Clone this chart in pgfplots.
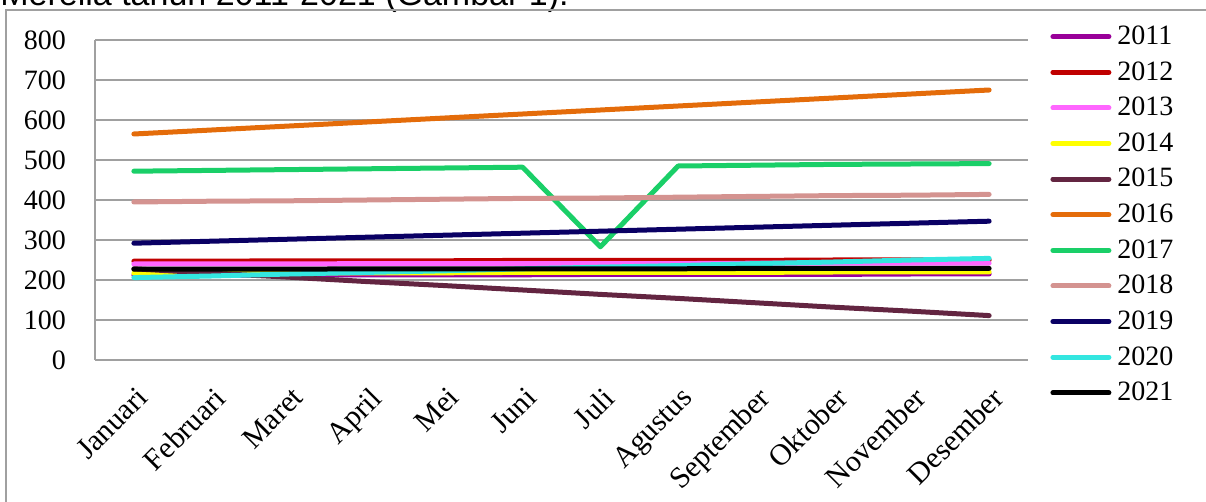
\documentclass[border=0pt]{standalone}
\usepackage{pgfplots}
\pgfplotsset{compat=1.18}
\usepackage{fontspec}
\setmainfont{Liberation Serif}
\newfontfamily\arialfont{Liberation Sans}

\definecolor{c2011}{HTML}{990099}
\definecolor{c2012}{HTML}{C00000}
\definecolor{c2013}{HTML}{FF66FF}
\definecolor{c2014}{HTML}{FFFF00}
\definecolor{c2015}{HTML}{632541}
\definecolor{c2016}{HTML}{E46C0A}
\definecolor{c2017}{HTML}{1ACF68}
\definecolor{c2018}{HTML}{D49390}
\definecolor{c2019}{HTML}{0A0064}
\definecolor{c2020}{HTML}{33E6E0}
\definecolor{c2021}{HTML}{000000}
\definecolor{gridgray}{HTML}{A0A0A0}

\pgfplotstableread{
x  a2011 a2012 a2013 a2014 a2015 a2016 a2017 a2018 a2019 a2020 a2021
0  212   247   240   217   228   565   472   395   292   206   227
1  212   247   240   217   217   575   474   397   297   210   227
2  213   248   240   218   207   585   476   398   302   215   227
3  213   248   241   218   196   595   478   400   307   219   228
4  213   248   241   218   186   605   480   402   312   223   228
5  213   249   241   219   175   615   482   404   317   228   228
6  214   249   241   219   164   625   283   405   322   232   228
7  214   249   241   219   154   635   485   407   327   236   228
8  214   249   242   219   143   645   487   409   332   241   229
9  214   250   242   220   132   655   489   411   337   245   229
10 215   250   242   220   122   665   490   412   342   250   229
11 215   250   242   220   111   675   491   414   347   254   229
}\datatable

\begin{document}
\begin{tikzpicture}
\useasboundingbox (0,0) rectangle (603pt,251pt);
\node[anchor=base west, inner sep=0pt, font=\arialfont\fontsize{17}{20}\selectfont] at (0pt,248pt) {Merelia tahun 2011-2021 (Gambar 1).};
\draw[color=gridgray, line width=0.75pt] (3pt,-10pt) rectangle (620pt,246pt);
\begin{axis}[
  at={(47.5pt,71pt)}, anchor=south west,
  scale only axis, width=466.5pt, height=160pt,
  xmin=-0.5, xmax=11.5, ymin=0, ymax=800,
  ytick={0,100,...,800},
  xtick={0,...,11},
  xticklabels={Januari,Februari,Maret,April,Mei,Juni,Juli,Agustus,September,Oktober,November,Desember},
  axis x line*=bottom, axis y line*=left,
  axis line style={gridgray, line width=1pt, -},
  ymajorgrids, major grid style={gridgray, line width=1pt},
  major tick length=0pt,
  tick style={draw=none},
  /pgf/number format/assume math mode=true,
  ticklabel style={font=\fontsize{14}{16}\selectfont},
  yticklabel style={xshift=-11pt},
  xticklabel style={rotate=45, anchor=north east, yshift=-6pt, xshift=-5pt, font=\fontsize{15}{17}\selectfont},
  clip=false,
  every axis plot/.append style={line width=2.5pt, line cap=round, line join=round},
  legend style={at={(1.0236,1.058)}, anchor=north west, draw=none, fill=none,
    inner sep=0pt, font=\rmfamily\fontsize{14}{16}\selectfont, row sep=3pt,
    cells={anchor=west},
    /tikz/every odd column/.append style={column sep=1pt}},
  legend image code/.code={\draw[#1] (0pt,0pt) -- (28pt,0pt);},
]
\addplot[c2011] table[x=x,y=a2011] {\datatable};
\addlegendentry{2011}
\addplot[c2012] table[x=x,y=a2012] {\datatable};
\addlegendentry{2012}
\addplot[c2013] table[x=x,y=a2013] {\datatable};
\addlegendentry{2013}
\addplot[c2014] table[x=x,y=a2014] {\datatable};
\addlegendentry{2014}
\addplot[c2015] table[x=x,y=a2015] {\datatable};
\addlegendentry{2015}
\addplot[c2016] table[x=x,y=a2016] {\datatable};
\addlegendentry{2016}
\addplot[c2017] table[x=x,y=a2017] {\datatable};
\addlegendentry{2017}
\addplot[c2018] table[x=x,y=a2018] {\datatable};
\addlegendentry{2018}
\addplot[c2019] table[x=x,y=a2019] {\datatable};
\addlegendentry{2019}
\addplot[c2020] table[x=x,y=a2020] {\datatable};
\addlegendentry{2020}
\addplot[c2021] table[x=x,y=a2021] {\datatable};
\addlegendentry{2021}
\end{axis}
\end{tikzpicture}
\end{document}
